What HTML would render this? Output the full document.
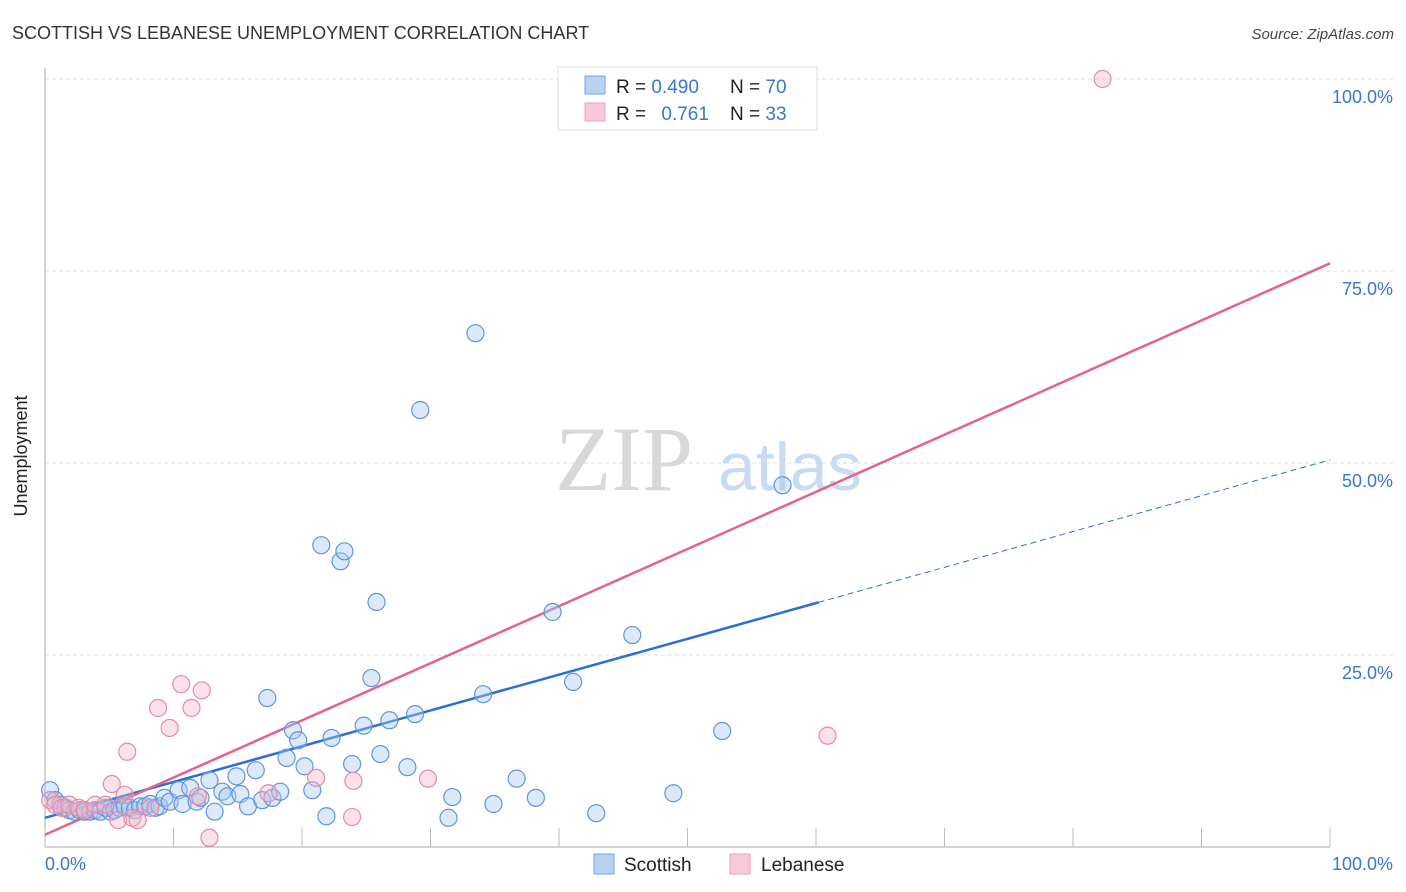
<!DOCTYPE html>
<html><head><meta charset="utf-8"><style>
body{margin:0;background:#fff;font-family:"Liberation Sans",sans-serif;}
#wrap{position:relative;width:1406px;height:892px;overflow:hidden;}
</style></head><body>
<div id="wrap">
<svg id="chart" width="1406" height="892" xmlns="http://www.w3.org/2000/svg">
<text x="12" y="39" font-size="18" fill="#333">SCOTTISH VS LEBANESE UNEMPLOYMENT CORRELATION CHART</text>
<text x="1394" y="39" font-size="15" fill="#444" font-style="italic" text-anchor="end">Source: ZipAtlas.com</text>
<g id="grid"></g>
<text x="555" y="490" font-size="92" fill="#d8d8d8" font-family="Liberation Serif,serif">ZIP</text>
<text x="718" y="490" font-size="68" fill="#c9daf3">atlas</text>
<g id="axes"></g>
<g id="lines"></g>
<g id="points"></g>
<text x="27" y="456" font-size="18" fill="#222" text-anchor="middle" transform="rotate(-90 27 456)">Unemployment</text>
<g>
<rect x="558" y="67" width="259" height="63" fill="#fff" stroke="#ddd"/>
<rect x="585" y="76" width="20" height="18" fill="#b8d2f4" stroke="#7aa6e4"/>
<rect x="585" y="103" width="20" height="18" fill="#f9c9d7" stroke="#eca2b8"/>
<text x="616" y="93" font-size="19" fill="#222">R = <tspan fill="#3a75d0">0.490</tspan></text>
<text x="730" y="93" font-size="19" fill="#222">N = <tspan fill="#3a75d0">70</tspan></text>
<text x="616" y="120" font-size="19" fill="#222">R = <tspan fill="#3a75d0" dx="10">0.761</tspan></text>
<text x="730" y="120" font-size="19" fill="#222">N = <tspan fill="#3a75d0">33</tspan></text>
</g>
<g>
<rect x="594" y="854" width="20" height="20" fill="#b8d2f4" stroke="#7aa6e4"/>
<text x="624" y="871" font-size="19" fill="#222">Scottish</text>
<rect x="730" y="854" width="20" height="20" fill="#f9c9d7" stroke="#eca2b8"/>
<text x="761" y="871" font-size="19" fill="#222">Lebanese</text>
</g>
</svg>
</div>
<script>
const scottishX=[0.4,0.8,1.2,1.6,1.9,2.3,2.7,3.1,3.5,3.9,4.3,4.7,5.1,5.4,5.8,6.2,6.6,7.0,7.4,7.8,8.2,8.6,8.9,9.3,9.7,10.4,10.7,11.3,11.8,12.1,12.8,13.2,13.8,14.2,14.9,15.2,15.8,16.4,16.9,17.3,17.7,18.3,18.8,19.3,19.7,20.2,20.8,21.5,21.9,22.3,23.0,23.3,23.9,24.8,25.4,25.8,26.1,26.8,28.2,28.8,29.2,31.4,31.7,33.5,34.1,34.9,36.7,38.2,39.5,41.1,42.9,45.7,48.9,52.7,57.4];
const scottishY=[7.4,6.1,5.5,5.1,4.8,4.6,4.8,4.6,4.6,4.8,4.6,5.1,4.6,4.8,5.1,5.3,5.1,4.8,5.3,5.3,5.6,5.1,5.3,6.4,5.9,7.4,5.6,7.7,5.9,6.4,8.7,4.6,7.2,6.6,9.2,6.9,5.3,10.0,6.1,19.4,6.4,7.2,11.6,15.2,13.9,10.5,7.4,39.3,4.0,14.2,37.2,38.5,10.8,15.8,22.0,31.9,12.1,16.5,10.4,17.3,56.9,3.8,6.5,66.9,19.9,5.6,8.9,6.4,30.6,21.5,4.4,27.6,7.0,15.1,47.1];
const lebaneseX=[0.4,0.8,1.3,1.9,2.6,3.1,3.9,4.7,5.2,5.7,6.2,6.4,6.8,7.2,8.2,8.8,9.7,10.6,11.4,11.9,12.2,12.8,17.4,21.1,23.9,24.0,29.8,60.9,82.3];
const lebaneseY=[6.1,5.5,5.1,5.5,5.1,4.8,5.5,5.5,8.2,3.5,6.8,12.4,3.8,3.5,5.1,18.1,15.5,21.2,18.1,6.6,20.4,1.2,7.0,9.0,3.9,8.6,8.9,14.5,100];
const trendIntercept=[3.8,1.6];
const trendSlope=[0.466,0.744];
const yTicks=[25,50,75,100];
const xTicks=[0,10,20,30,40,50,60,70,80,90,100];
const NS="http://www.w3.org/2000/svg";
const X=v=>45+v*12.85, Y=v=>847-v*7.68;
function mk(tag,attrs,parent){const e=document.createElementNS(NS,tag);for(const k in attrs)e.setAttribute(k,attrs[k]);parent.appendChild(e);return e;}
const grid=document.getElementById('grid'),axes=document.getElementById('axes'),lines=document.getElementById('lines'),pts=document.getElementById('points');
yTicks.forEach(t=>{
 const l=mk('line',{x1:45,x2:1394,y1:Y(t),y2:Y(t),stroke:'#ddd','stroke-dasharray':'4,3'},grid);
 
 
 const tx=mk('text',{x:1393,y:Y(t)+24,'font-size':18,fill:'#3a75d0','text-anchor':'end'},axes);
 tx.textContent=t.toFixed(1)+'%';
 
 
});
mk('line',{x1:45,x2:45,y1:68,y2:847,stroke:'#aaa'},axes);
mk('line',{x1:45,x2:1330,y1:847,y2:847,stroke:'#aaa'},axes);
xTicks.forEach(t=>{
 const l=mk('line',{x1:X(t),x2:X(t),y1:828,y2:847,stroke:'#bbb'},axes);
 
 
});
const x0=mk('text',{x:45,y:870,'font-size':18,fill:'#3a75d0'},axes);x0.textContent='0.0%';


const x1=mk('text',{x:1393,y:870,'font-size':18,fill:'#3a75d0','text-anchor':'end'},axes);x1.textContent='100.0%';


function drawPts(xs,ys,fill,stroke,name){xs.forEach((v,i)=>{
 const c=mk('circle',{cx:X(v),cy:Y(ys[i]),r:8.5,fill:fill,'fill-opacity':0.4,stroke:stroke,'stroke-width':1.2},pts);
 
 
});}
drawPts(scottishX,scottishY,'#a8c8f0','#5f95dd','point-scottish');
drawPts(lebaneseX,lebaneseY,'#f5b3c7','#e68aa8','point-lebanese');
const solidEnd=60.2;
const b1=mk('line',{x1:X(0),y1:Y(trendIntercept[0]),x2:X(solidEnd),y2:Y(trendIntercept[0]+trendSlope[0]*solidEnd),stroke:'#2a6fd6','stroke-width':2.5},lines);


const b2=mk('line',{x1:X(solidEnd),y1:Y(trendIntercept[0]+trendSlope[0]*solidEnd),x2:X(100),y2:Y(trendIntercept[0]+trendSlope[0]*100),stroke:'#2a6fd6','stroke-width':1,'stroke-dasharray':'6,4'},lines);


const p1=mk('line',{x1:X(0),y1:Y(trendIntercept[1]),x2:X(100),y2:Y(trendIntercept[1]+trendSlope[1]*100),stroke:'#e4638e','stroke-width':2.5},lines);


</script>
</body></html>
